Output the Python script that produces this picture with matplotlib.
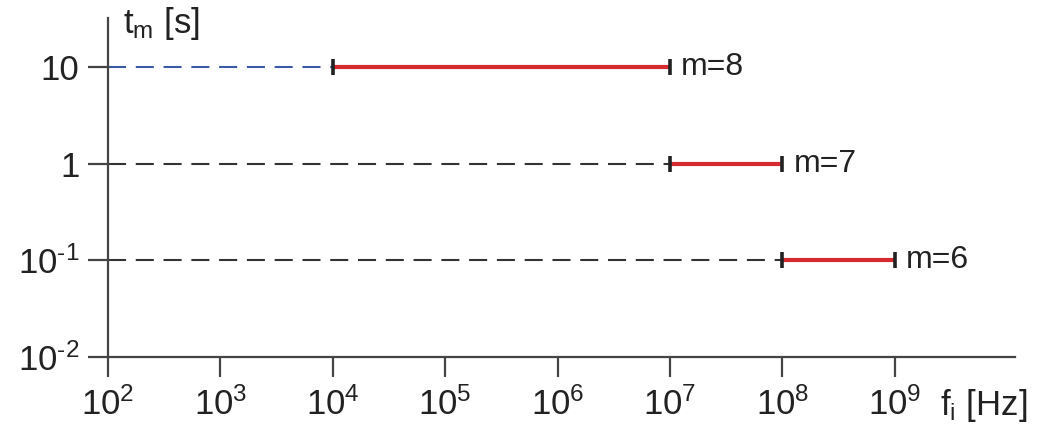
import matplotlib
matplotlib.use("Agg")
import matplotlib.pyplot as plt
import numpy as np

# Data
m_labels = ["m=8", "m=7", "m=6"]
t_m = [10, 1, 0.1]
f_start = [1e4, 1e7, 1e8]
f_end = [1e7, 1e8, 1e9]
dash_colors = ["#3b5aa6", "#333333", "#333333"]
x_ticks = [1e2, 1e3, 1e4, 1e5, 1e6, 1e7, 1e8, 1e9]
x_ticklabels = [r"$\mathregular{10^{%d}}$" % e for e in range(2, 10)]
y_ticks = [1e-2, 1e-1, 1, 10]
y_ticklabels = [r"$\mathregular{10^{\text{-2}}}$", r"$\mathregular{10^{\text{-1}}}$", "1", "10"]

plt.rcParams["font.family"] = ["Liberation Sans", "DejaVu Sans"]
plt.rcParams["mathtext.fontset"] = "custom"
plt.rcParams["mathtext.rm"] = "Liberation Sans"
plt.rcParams["mathtext.it"] = "Liberation Sans:italic"
plt.rcParams["axes.unicode_minus"] = False
plt.rcParams["lines.scale_dashes"] = False

W, H = 1037, 425
fig = plt.figure(figsize=(W / 100, H / 100), dpi=100)
L, R, B, T = 108, 1015, 357, 18
ax = fig.add_axes([L / W, 1 - B / H, (R - L) / W, (B - T) / H])
ax.set_xscale("log")
ax.set_yscale("log")
ax.set_xlim(1e2, 10 ** (2 + (R - L) / 112.4))
ax.set_ylim(1e-2, 10 ** (-2 + (B - T) / 96.7))

for sp in ["top", "right"]:
    ax.spines[sp].set_visible(False)
for sp in ["left", "bottom"]:
    ax.spines[sp].set_color("#444444")
    ax.spines[sp].set_linewidth(1.6)

ax.set_xticks(x_ticks)
ax.set_xticklabels(x_ticklabels)
ax.set_yticks(y_ticks)
ax.set_yticklabels(y_ticklabels)
ax.minorticks_off()
ax.tick_params(axis="both", which="major", direction="out", length=14.5,
               width=1.6, color="#444444", labelsize=25, labelcolor="#222222")
ax.tick_params(axis="x", pad=7)
ax.tick_params(axis="y", pad=6)

for lbl, t, fs, fe, dc in zip(m_labels, t_m, f_start, f_end, dash_colors):
    ax.plot([1e2, fs], [t, t], color=dc, lw=1.5, linestyle=(0, (13, 7)),
            clip_on=False, zorder=2)
    ax.plot([fs, fe], [t, t], color="#d42a30", lw=3.0, solid_capstyle="butt",
            zorder=3)
    ax.plot([fs, fe], [t, t], linestyle="none", marker="|", markersize=11,
            markeredgewidth=2.6, color="#222222", zorder=4)
    ax.annotate(lbl, xy=(fe, t), xytext=(8, 0), textcoords="offset points",
                ha="left", va="center", fontsize=23, color="#222222")

fig.text(123 / W, 1 - 24 / H, r"t$_\mathregular{m}$ [s]", ha="left", va="center",
         fontsize=25, color="#222222")
fig.text(940 / W, 1 - 405 / H, r"f$_\mathregular{i}$ [Hz]", ha="left", va="center",
         fontsize=25, color="#222222")

fig.savefig("out.png", dpi=100)
